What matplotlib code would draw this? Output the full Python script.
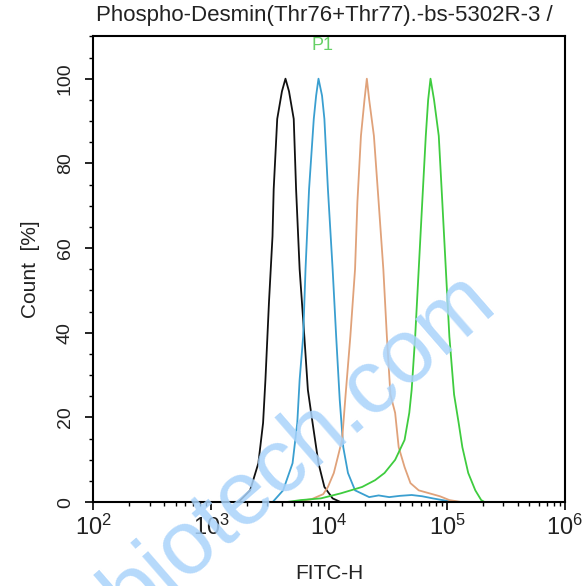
import numpy as np
import matplotlib
matplotlib.use("Agg")
from matplotlib import pyplot as plt
from matplotlib.ticker import MultipleLocator, LogLocator

plt.rcParams['font.family'] = ['Liberation Sans', 'DejaVu Sans']
plt.rcParams['mathtext.fontset'] = 'custom'
plt.rcParams['mathtext.rm'] = 'Liberation Sans'
plt.rcParams['mathtext.it'] = 'Liberation Sans:italic'

# histogram outlines: log10(FITC-H) and count in %
black_lx = [3.23, 3.33, 3.40, 3.44, 3.46, 3.49, 3.52, 3.53, 3.56, 3.60, 3.63, 3.66, 3.70,
            3.72, 3.75, 3.79, 3.82, 3.86, 3.91, 3.96, 4.03, 4.10]
black_y = [0, 2.8, 9.2, 18.7, 28.9, 47.2, 62.8, 73.9, 90.5, 97, 100, 97, 90.5,
           73.9, 55.0, 39.1, 26.5, 18.7, 9.2, 3.6, 0.9, 0]

blue_lx = [3.52, 3.61, 3.69, 3.73, 3.75, 3.78, 3.80, 3.83, 3.87, 3.89, 3.91, 3.94, 3.96,
           3.99, 4.03, 4.06, 4.09, 4.12, 4.16, 4.22, 4.34, 4.42, 4.51, 4.60, 4.70, 4.79,
           4.88, 5.02, 5.13]
blue_y = [0, 2.8, 9.2, 18.7, 28.9, 39.1, 55.0, 73.9, 90.5, 96, 100, 96, 90.5,
          73.9, 55.0, 39.1, 24.2, 13.0, 6.9, 2.8, 1.2, 1.6, 1.2, 1.5, 1.7, 1.4,
          0.9, 0.2, 0]

orange_lx = [3.67, 3.85, 3.95, 3.99, 4.04, 4.11, 4.14, 4.18, 4.22, 4.24, 4.27, 4.30, 4.32,
             4.34, 4.38, 4.42, 4.46, 4.49, 4.52, 4.56, 4.59, 4.64, 4.69, 4.76, 4.85,
             4.94, 5.02, 5.13]
orange_y = [0, 0.7, 1.9, 3.6, 6.9, 14.7, 25.4, 39.1, 55.0, 70.9, 86.5, 95, 100,
            95, 86.5, 70.9, 55.0, 39.1, 25.4, 21.1, 13.0, 8.3, 4.5, 2.8, 2.1,
            1.4, 0.5, 0]

green_lx = [3.63, 3.76, 3.93, 4.10, 4.28, 4.39, 4.47, 4.56, 4.64, 4.68, 4.70, 4.73, 4.76,
            4.79, 4.82, 4.84, 4.86, 4.89, 4.93, 4.96, 4.99, 5.02, 5.06, 5.10, 5.13,
            5.18, 5.24, 5.29, 5.32]
green_y = [0, 0.5, 0.9, 2.1, 3.6, 5.2, 6.9, 10.0, 14.7, 21.1, 26.5, 39.1, 55.0,
           70.9, 86.5, 95, 100, 95, 86.5, 70.9, 55.0, 39.1, 25.4, 18.5, 13.0,
           6.9, 2.8, 0.5, 0]

fig = plt.figure(figsize=(5.83, 5.86), dpi=100, facecolor='white')
ax = fig.add_axes([0.160, 0.143, 0.809, 0.795])
ax.set_facecolor('white')

ax.plot(10 ** np.array(black_lx), black_y, color='#111111', lw=1.3)
ax.plot(10 ** np.array(blue_lx), blue_y, color='#3a9fd0', lw=1.3)
ax.plot(10 ** np.array(orange_lx), orange_y, color='#e0a27a', lw=1.3)
ax.plot(10 ** np.array(green_lx), green_y, color='#3fcc3f', lw=1.3)

ax.set_xscale('log')
ax.set_xlim(1e2, 1e6)
ax.set_ylim(0, 110)
ax.xaxis.set_major_locator(LogLocator(base=10, numticks=10))
ax.xaxis.set_minor_locator(LogLocator(base=10, subs=np.arange(2, 10), numticks=10))
ax.yaxis.set_major_locator(MultipleLocator(20))
ax.yaxis.set_minor_locator(MultipleLocator(5))
ax.tick_params(axis='both', which='major', direction='out', length=6, width=1.2)
ax.tick_params(axis='both', which='minor', direction='out', length=3, width=1)
ax.tick_params(axis='x', labelsize=17, pad=3, labelcolor='#222222')
ax.tick_params(axis='y', labelsize=14, pad=8, labelcolor='#222222')
for lab in ax.get_yticklabels():
    lab.set_rotation(90)
    lab.set_va('center')
for s in ax.spines.values():
    s.set_linewidth(1.5)

ax.set_xlabel('FITC-H', fontsize=15, color='#222222', labelpad=17)
ax.set_ylabel('Count  [%]', fontsize=15, color='#222222', labelpad=12)
fig.text(0.557, 0.973, 'Phospho-Desmin(Thr76+Thr77).-bs-5302R-3 /', ha='center',
         va='center', fontsize=16, color='#222222')
fig.text(0.553, 0.923, 'P1', ha='center', va='center', fontsize=13, color='#66d066')

fig.text(0.512, 0.236, 'biotech.com', rotation=41, rotation_mode='anchor', ha='center',
         va='center', fontsize=65, color='#a9d3fb', alpha=0.85)

fig.savefig('out.png', dpi=100, facecolor=fig.get_facecolor())
